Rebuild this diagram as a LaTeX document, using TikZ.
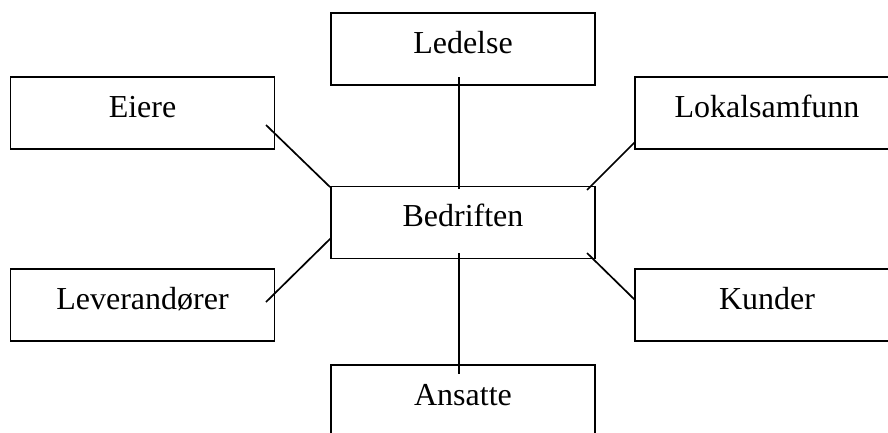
\documentclass[tikz,border=0pt]{standalone}
\usepackage{fontspec}
\setmainfont{Liberation Serif}
\begin{document}
\begin{tikzpicture}[x=1pt,y=-1pt,
  box/.style={draw=black,line width=1.7pt,rectangle,minimum width=264pt,minimum height=72pt,
    inner sep=0pt,text height=20pt,text depth=12pt,font=\fontsize{32}{38}\selectfont},
  link/.style={draw=black,line width=1.7pt}]
\useasboundingbox (0,0) rectangle (888,432);
\clip (0,0) rectangle (888,432);
\node[box] (ledelse) at (463,49) {Ledelse};
\node[box] (eiere) at (142.5,113) {Eiere};
\node[box] (lokal) at (767,113) {Lokalsamfunn};
\node[box] (bedriften) at (463,222.5) {Bedriften};
\node[box] (lever) at (142.5,305) {Leverandører};
\node[box] (kunder) at (767,305) {Kunder};
\node[box] (ansatte) at (463,401) {Ansatte};
\coordinate (la) at (459,77);  \coordinate (lb) at (459,189);
\coordinate (ea) at (266,125); \coordinate (eb) at (330,187);
\coordinate (ka) at (635,142); \coordinate (kb) at (587,190);
\coordinate (va) at (266,302); \coordinate (vb) at (331,238);
\coordinate (ua) at (587,253); \coordinate (ub) at (635,300);
\coordinate (aa) at (459,253); \coordinate (ab) at (459,374);
\draw[link] (la) -- (lb);
\draw[link] (ea) -- (eb);
\draw[link] (ka) -- (kb);
\draw[link] (va) -- (vb);
\draw[link] (ua) -- (ub);
\draw[link] (aa) -- (ab);
\end{tikzpicture}
\end{document}
